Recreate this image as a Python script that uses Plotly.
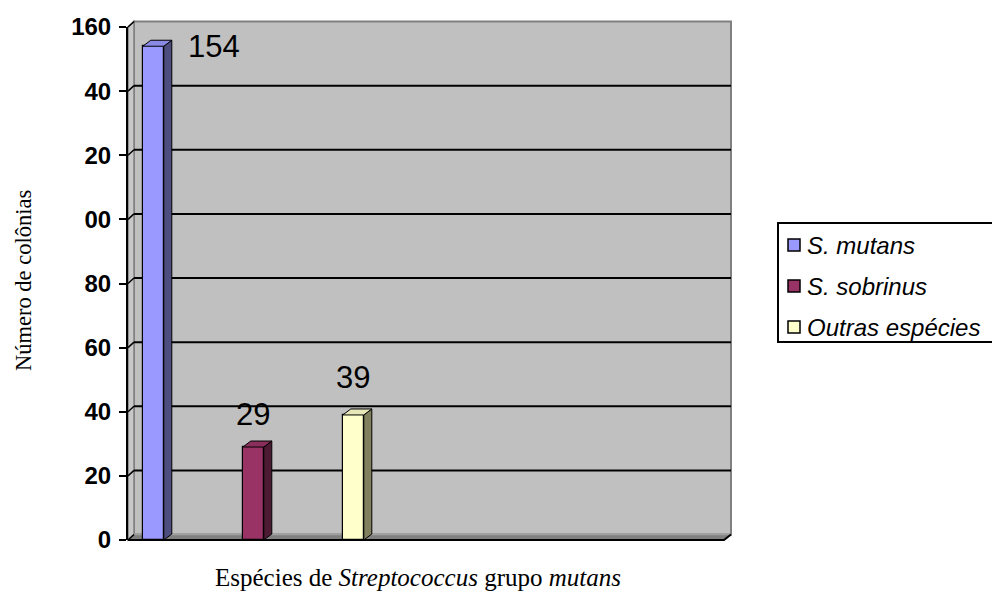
import plotly.graph_objects as go

# ---- data ----
species = ["S. mutans", "S. sobrinus", "Outras espécies"]
colonies = [154, 29, 39]
y_tick_values = [0, 20, 40, 60, 80, 100, 120, 140, 160]
y_tick_labels = ["0", "20", "40", "60", "80", "00", "20", "40", "160"]

# ---- styling ----
front_colors = ["#9999FF", "#993366", "#FFFFCC"]
side_colors = ["#4D4D80", "#4D1A33", "#80805F"]
top_colors = ["#8A8AE6", "#8A2E5C", "#E6E6B8"]
label_dx = [61, 0, 0]      # pixel shift of each value label
label_dy = [0, 33, 37]

W, H = 992, 594
L, R, T, B = 128, 261, 27, 54
plot_w = W - L - R
plot_h = H - T - B
Y_MAX = 160
PX_PER_X = 100
X_MIN = -0.253
X_MAX = X_MIN + plot_w / PX_PER_X
px_per_y = plot_h / Y_MAX

BAR_W = 0.21
BAR_DX, BAR_DY = 8, 6        # depth of the 3D bars, px
WALL_DX, WALL_DY = 6, 5.5    # depth of the back wall, px
FRONT_RIGHT = 724            # right end of the floor's front edge, px


def px(x):
    return (x - L) / plot_w


def py(y):
    return (H - B - y) / plot_h


def val_py(v):
    """pixel row of a value on the front plane"""
    return H - B - v * px_per_y


def path(points):
    return "M " + " L ".join(f"{a},{b}" for a, b in points) + " Z"


shapes = []

# back wall
shapes.append(dict(type="rect", xref="paper", yref="paper", layer="below",
                   x0=px(L + WALL_DX), x1=px(L + plot_w),
                   y0=py(val_py(0) - WALL_DY), y1=py(val_py(Y_MAX) - WALL_DY),
                   fillcolor="#C0C0C0", line=dict(color="#808080", width=2)))
# left side wall
shapes.append(dict(type="path", xref="paper", yref="paper", layer="below",
                   path=path([(px(L), py(val_py(0))),
                              (px(L + WALL_DX), py(val_py(0) - WALL_DY)),
                              (px(L + WALL_DX), py(val_py(Y_MAX) - WALL_DY)),
                              (px(L), py(val_py(Y_MAX)))]),
                   fillcolor="#C8C8C8", line=dict(color="#808080", width=1.5)))
# floor
shapes.append(dict(type="path", xref="paper", yref="paper", layer="below",
                   path=path([(px(L), py(val_py(0))),
                              (px(FRONT_RIGHT), py(val_py(0))),
                              (px(L + plot_w), py(val_py(0) - WALL_DY)),
                              (px(L + WALL_DX), py(val_py(0) - WALL_DY))]),
                   fillcolor="#808080", line=dict(width=0)))
shapes.append(dict(type="line", xref="paper", yref="paper", layer="below",
                   x0=px(L + WALL_DX), x1=px(L + plot_w),
                   y0=py(val_py(0) - WALL_DY), y1=py(val_py(0) - WALL_DY),
                   line=dict(color="#A0A0A0", width=1.5)))
shapes.append(dict(type="path", xref="paper", yref="paper", layer="below",
                   path="M " + f"{px(L)},{py(val_py(0))} L {px(FRONT_RIGHT)},{py(val_py(0))} "
                        f"L {px(L + plot_w)},{py(val_py(0) - WALL_DY)}",
                   line=dict(color="black", width=2)))

# gridlines on the back wall and their links to the axis ticks
for v in y_tick_values:
    yb = py(val_py(v) - WALL_DY)
    if 0 < v < Y_MAX:
        shapes.append(dict(type="line", xref="paper", yref="paper", layer="below",
                           x0=px(L + WALL_DX), x1=px(L + plot_w), y0=yb, y1=yb,
                           line=dict(color="black", width=2)))
    shapes.append(dict(type="line", xref="paper", yref="paper", layer="below",
                       x0=px(L), x1=px(L + WALL_DX), y0=py(val_py(v)), y1=yb,
                       line=dict(color="black", width=1.5)))

# side and top faces of the bars
dx = BAR_DX / PX_PER_X
dy = BAR_DY / px_per_y
for i, v in enumerate(colonies):
    x0, x1 = i - BAR_W / 2, i + BAR_W / 2
    shapes.append(dict(type="path", xref="x", yref="y",
                       path=path([(x1, 0), (x1 + dx, dy), (x1 + dx, v + dy), (x1, v)]),
                       fillcolor=side_colors[i], line=dict(color="black", width=1)))
    shapes.append(dict(type="path", xref="x", yref="y",
                       path=path([(x0, v), (x0 + dx, v + dy), (x1 + dx, v + dy), (x1, v)]),
                       fillcolor=top_colors[i], line=dict(color="black", width=1)))

fig = go.Figure()
fig.add_trace(go.Bar(
    x=list(range(len(colonies))), y=colonies, width=BAR_W,
    marker=dict(color=front_colors, line=dict(color="black", width=1.2)),
    showlegend=False, hoverinfo="skip",
))

annotations = []
for i, v in enumerate(colonies):
    annotations.append(dict(x=i, y=v, xref="x", yref="y", text=str(v), showarrow=False,
                            xshift=label_dx[i], yshift=label_dy[i], yanchor="middle",
                            font=dict(family="Liberation Sans, Arial", size=31, color="black")))

# legend box
LEG_X0, LEG_Y0, LEG_Y1 = 778, 223, 342
shapes.append(dict(type="rect", xref="paper", yref="paper",
                   x0=px(LEG_X0), x1=px(W + 10), y0=py(LEG_Y0), y1=py(LEG_Y1),
                   fillcolor="white", line=dict(color="black", width=2)))
leg_rows = [245, 286, 327]
for i, name in enumerate(species):
    yc = leg_rows[i]
    shapes.append(dict(type="rect", xref="paper", yref="paper",
                       x0=px(788), x1=px(800), y0=py(yc - 6), y1=py(yc + 6),
                       fillcolor=front_colors[i], line=dict(color="black", width=1.5)))
    annotations.append(dict(x=px(805), y=py(yc), xref="paper", yref="paper", text=name,
                            showarrow=False, xanchor="left", yanchor="middle",
                            font=dict(family="Liberation Sans, Arial", size=24,
                                      color="black", style="italic")))

# axis titles
annotations.append(dict(x=px(418), y=py(578), xref="paper", yref="paper",
                        text="Espécies de <i>Streptococcus</i> grupo <i>mutans</i>",
                        showarrow=False, xanchor="center", yanchor="middle",
                        font=dict(family="Liberation Serif, Times New Roman", size=25, color="black")))
annotations.append(dict(x=px(23), y=py(280), xref="paper", yref="paper",
                        text="Número de colônias", textangle=-90,
                        showarrow=False, xanchor="center", yanchor="middle",
                        font=dict(family="Liberation Serif, Times New Roman", size=22.5, color="black")))

fig.update_layout(
    width=W, height=H,
    margin=dict(l=L, r=R, t=T, b=B, pad=0),
    paper_bgcolor="white", plot_bgcolor="rgba(0,0,0,0)",
    shapes=shapes, annotations=annotations,
    bargap=0,
    xaxis=dict(range=[X_MIN, X_MAX], visible=False, fixedrange=True),
    yaxis=dict(range=[0, Y_MAX], tickvals=y_tick_values, ticktext=y_tick_labels,
               showgrid=False, zeroline=False, showline=True, linecolor="black",
               linewidth=2, ticks="outside", ticklen=7, tickwidth=2, tickcolor="black",
               ticklabelstandoff=3,
               tickfont=dict(family="Liberation Sans, Arial", size=24, color="black",
                             weight="bold"),
               fixedrange=True),
)

fig.write_html("out.html")
